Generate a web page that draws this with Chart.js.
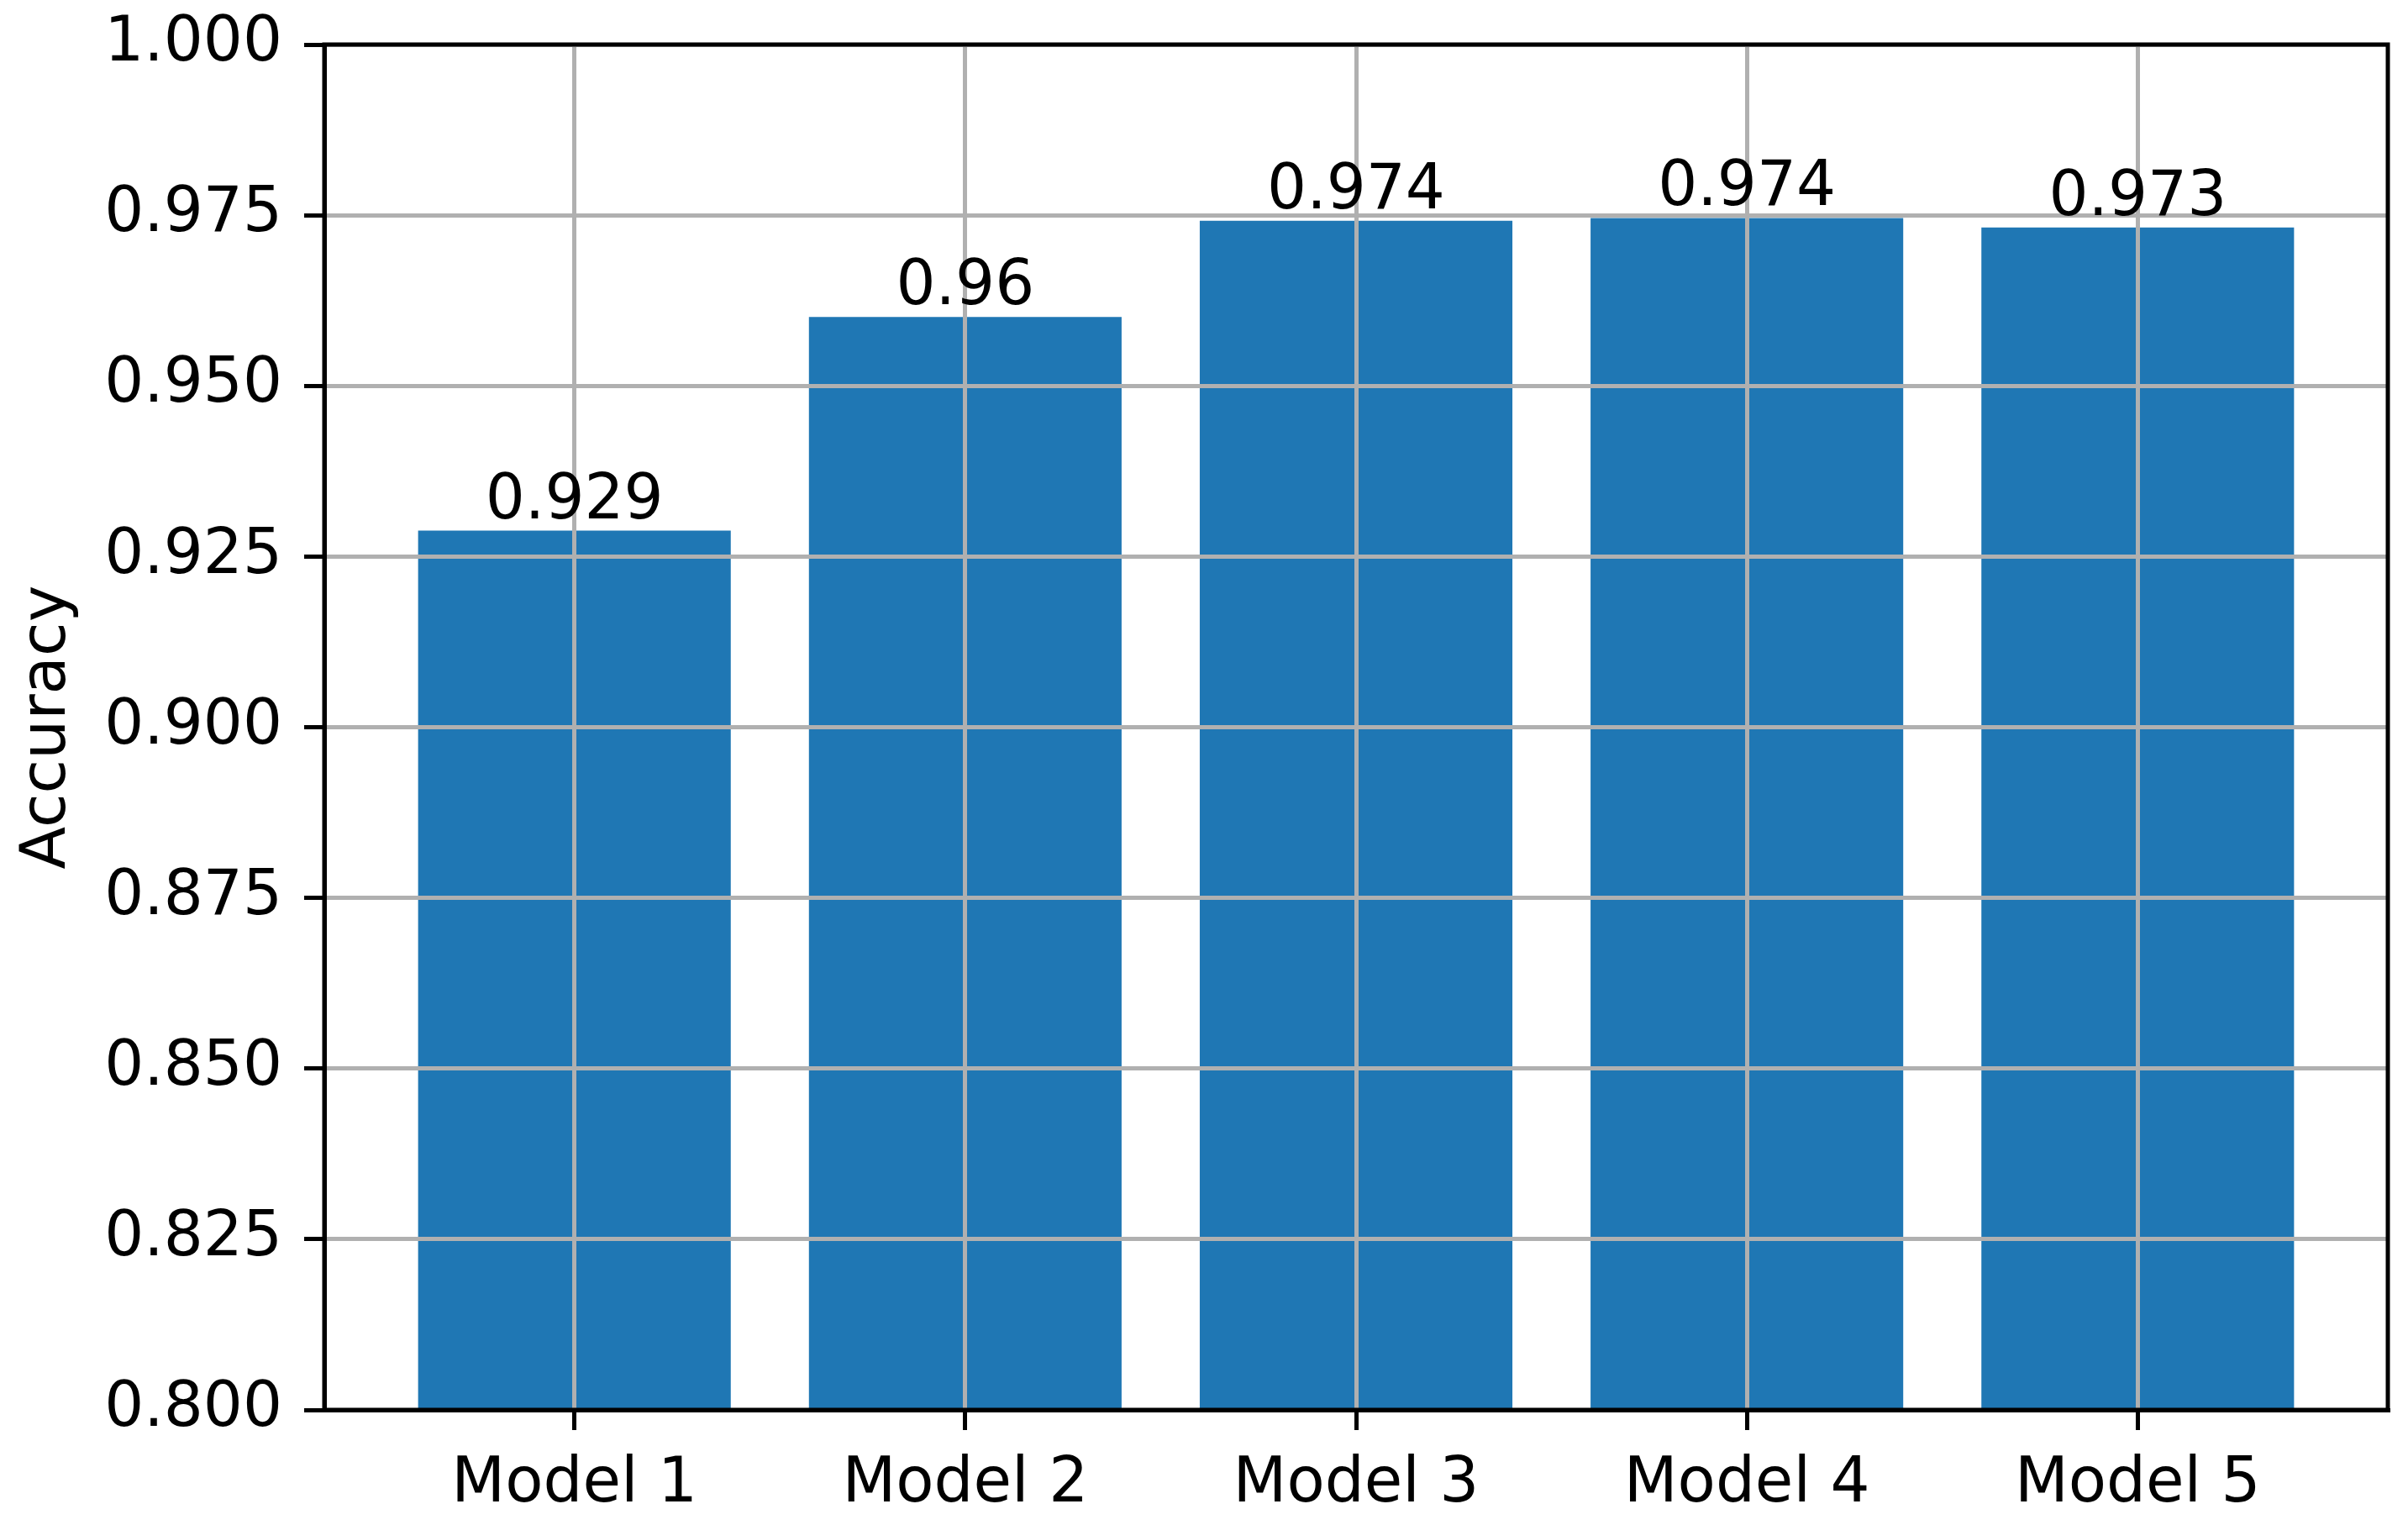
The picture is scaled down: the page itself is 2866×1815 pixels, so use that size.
<!DOCTYPE html>
<html>
<head>
<meta charset="utf-8">
<script src="https://cdn.jsdelivr.net/npm/chart.js@4/dist/chart.umd.min.js"></script>
<style>
	html, body { margin: 0; padding: 0; background: #fff; overflow: hidden; }
	#wrap { width: 2866px; height: 1815px; position: relative; }
</style>
</head>
<body>
<div id="wrap"><canvas id="accuracy-chart"></canvas></div>
<script>
(function() {
	'use strict';

	// Chart data.
	const categories = ['Model 1', 'Model 2', 'Model 3', 'Model 4', 'Model 5'];
	const accuracy = [0.9288, 0.9601, 0.9742, 0.9746, 0.9732];
	const barLabels = ['0.929', '0.96', '0.974', '0.974', '0.973'];
	const yTicks = [0.800, 0.825, 0.850, 0.875, 0.900, 0.925, 0.950, 0.975, 1.000];

	const fontFamily = "'DejaVu Sans', sans-serif";
	const fontSize = 74;

	// Bar value labels, drawn above each bar.
	const barLabelPlugin = {
		id: 'barLabels',
		afterDraw(chart) {
			const ctx = chart.ctx;
			const meta = chart.getDatasetMeta(0);
			ctx.save();
			ctx.font = fontSize + 'px ' + fontFamily;
			ctx.fillStyle = '#000';
			ctx.textAlign = 'center';
			ctx.textBaseline = 'alphabetic';
			meta.data.forEach(function(bar, i) {
				ctx.fillText(barLabels[i], bar.x, bar.y - 15);
			});
			ctx.restore();
		}
	};

	// Box around the plot area (matplotlib style spines).
	const framePlugin = {
		id: 'frame',
		afterDraw(chart) {
			const a = chart.chartArea;
			const ctx = chart.ctx;
			ctx.save();
			ctx.strokeStyle = '#000';
			ctx.lineWidth = 5;
			ctx.strokeRect(a.left, a.top, a.right - a.left, a.bottom - a.top);
			ctx.restore();
		}
	};

	new Chart(document.getElementById('accuracy-chart'), {
		type: 'bar',
		data: {
			datasets: [
				{
					label: 'Accuracy',
					data: categories.map(function(c, i) {
						return { x: i, y: accuracy[i] };
					}),
					backgroundColor: '#1f77b4',
					borderWidth: 0,
					categoryPercentage: 1,
					barPercentage: 0.8,
				}
			]
		},
		plugins: [barLabelPlugin, framePlugin],
		options: {
			responsive: true,
			maintainAspectRatio: false,
			devicePixelRatio: 1,
			animation: false,
			layout: {
				padding: { left: 0, top: 53, right: 24, bottom: 0 }
			},
			plugins: {
				legend: { display: false },
				tooltip: { enabled: false }
			},
			scales: {
				x: {
					type: 'linear',
					offset: false,
					min: -0.64,
					max: categories.length - 1 + 0.64,
					afterBuildTicks: function(scale) {
						scale.ticks = categories.map(function(c, i) {
							return { value: i };
						});
					},
					afterFit: function(scale) {
						scale.height = 137;
						scale.paddingLeft = 0;
						scale.paddingRight = 0;
					},
					grid: {
						offset: false,
						color: '#b0b0b0',
						lineWidth: 5,
						z: 1,
						tickColor: '#000',
						tickWidth: 5,
						tickLength: 24,
					},
					border: { display: true, color: '#000', width: 5, z: 2 },
					ticks: {
						color: '#000',
						padding: 21,
						maxRotation: 0,
						autoSkip: false,
						font: { family: fontFamily, size: fontSize },
						callback: function(value) {
							return categories[value];
						}
					}
				},
				y: {
					type: 'linear',
					min: 0.8,
					max: 1.0,
					afterBuildTicks: function(scale) {
						scale.ticks = yTicks.map(function(v) {
							return { value: v };
						});
					},
					afterFit: function(scale) {
						scale.width = 386;
						scale.paddingTop = 0;
						scale.paddingBottom = 0;
					},
					grid: {
						color: '#b0b0b0',
						lineWidth: 5,
						z: 1,
						tickColor: '#000',
						tickWidth: 5,
						tickLength: 24,
					},
					border: { display: true, color: '#000', width: 5, z: 2 },
					title: {
						display: true,
						text: 'Accuracy',
						color: '#000',
						padding: { top: 13, bottom: 0 },
						font: { family: fontFamily, size: fontSize }
					},
					ticks: {
						color: '#000',
						padding: 26,
						autoSkip: false,
						font: { family: fontFamily, size: fontSize },
						callback: function(value) {
							return Number(value).toFixed(3);
						}
					}
				}
			}
		}
	});
})();
</script>
</body>
</html>
